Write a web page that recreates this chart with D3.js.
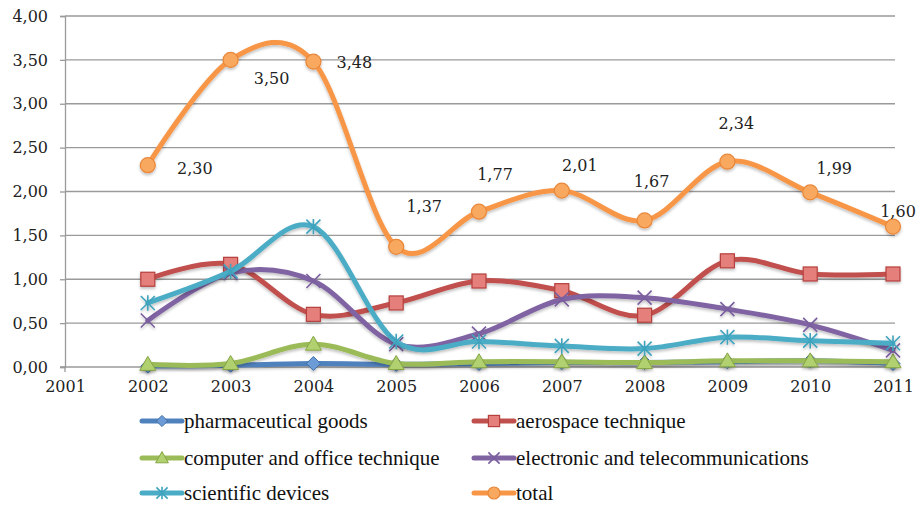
<!DOCTYPE html>
<html>
<head>
<meta charset="utf-8">
<script src="https://cdn.jsdelivr.net/npm/d3@7"></script>
<style>
  html, body { margin: 0; padding: 0; background: #fff; }
  svg { display: block; }
  .legend-text { font-family: "Liberation Serif", "Times New Roman", Times, serif; }
</style>
</head>
<body>
<svg id="chart" width="917" height="506"></svg>
<script>
// ---------- data ----------
const years = [2002, 2003, 2004, 2005, 2006, 2007, 2008, 2009, 2010, 2011];
const xTickYears = [2001, 2002, 2003, 2004, 2005, 2006, 2007, 2008, 2009, 2010, 2011];
const yTickValues = [0, 0.5, 1, 1.5, 2, 2.5, 3, 3.5, 4];

const pharmaceutical = [0.01, 0.02, 0.04, 0.03, 0.04, 0.05, 0.05, 0.06, 0.07, 0.04];
const aerospace      = [1.00, 1.17, 0.60, 0.73, 0.98, 0.87, 0.59, 1.21, 1.06, 1.06];
const computer       = [0.03, 0.04, 0.26, 0.04, 0.06, 0.06, 0.05, 0.07, 0.07, 0.06];
const electronic     = [0.53, 1.07, 0.98, 0.26, 0.38, 0.77, 0.79, 0.66, 0.48, 0.19];
const scientific     = [0.73, 1.09, 1.60, 0.29, 0.29, 0.24, 0.21, 0.34, 0.30, 0.27];
const total          = [2.30, 3.50, 3.48, 1.37, 1.77, 2.01, 1.67, 2.34, 1.99, 1.60];

const seriesNames = ["pharmaceutical goods", "aerospace technique", "computer and office technique",
                     "electronic and telecommunications", "scientific devices", "total"];

// label offsets (pixels) for the total data labels
const labelDx = [47, 41, 41, 28, 16, 18, 7, 9, 24, 5];
const labelDy = [3, 19, 1, -40, -37, -25, -39, -38, -24, -15];

// ---------- styling ----------
const styles = [
  { color: "#4F81BD", fill: "#6d9bd6", stroke: "#3f6fa8", marker: "diamond" },
  { color: "#C0504D", fill: "#e57f7c", stroke: "#b5403d", marker: "square" },
  { color: "#9BBB59", fill: "#b1d06f", stroke: "#86a543", marker: "triangle" },
  { color: "#8064A2", fill: "none",    stroke: "#7a5e9e", marker: "x" },
  { color: "#4BACC6", fill: "none",    stroke: "#3fa3bd", marker: "star" },
  { color: "#F79646", fill: "#f9a95f", stroke: "#e9873a", marker: "circle" }
];
const seriesData = [pharmaceutical, aerospace, computer, electronic, scientific, total];

const svg = d3.select("#chart");

const x = d3.scaleLinear().domain([2001, 2011]).range([65, 893]);
const y = d3.scaleLinear().domain([0, 4]).range([367, 16]);

const tickFont = "'DejaVu Serif', serif";

// gridlines
svg.append("g")
  .selectAll("line")
  .data(yTickValues.filter(v => v > 0))
  .join("line")
  .attr("x1", x(2001)).attr("x2", x(2011) + 2)
  .attr("y1", d => y(d)).attr("y2", d => y(d))
  .attr("stroke", "#9a9a9a").attr("stroke-width", 1.3);

// y axis
const yAxis = d3.axisLeft(y).tickValues(yTickValues).tickSize(5)
  .tickFormat(d => d3.format(".2f")(d).replace(".", ","));
const gy = svg.append("g").attr("transform", `translate(${x(2001)},0)`).call(yAxis);
gy.select(".domain").attr("stroke", "#9a9a9a").attr("stroke-width", 1.3);
gy.selectAll(".tick line").attr("stroke", "#9a9a9a").attr("stroke-width", 1.3);
gy.selectAll(".tick text").attr("x", -17).attr("font-family", tickFont)
  .attr("font-size", "16px").attr("fill", "#222");

// x axis
const xAxis = d3.axisBottom(x).tickValues(xTickYears).tickSize(0).tickFormat(d3.format("d"));
const gx = svg.append("g").attr("transform", `translate(0,${y(0)})`).call(xAxis);
gx.select(".domain").attr("stroke", "#9a9a9a").attr("stroke-width", 1.3).attr("d", `M${x(2001) - 5},0H${x(2011) + 2}`);
gx.selectAll(".tick text").attr("y", 14).attr("font-family", tickFont)
  .attr("font-size", "16px").attr("fill", "#222");
gx.append("line").attr("x1", x(2001)).attr("x2", x(2001)).attr("y1", 0).attr("y2", 5)
  .attr("stroke", "#9a9a9a").attr("stroke-width", 1.3);

// shadow filter
const defs = svg.append("defs");
const f = defs.append("filter").attr("id", "shadow").attr("x", "-10%").attr("y", "-10%")
  .attr("width", "120%").attr("height", "130%");
f.append("feGaussianBlur").attr("in", "SourceAlpha").attr("stdDeviation", 1.5).attr("result", "b");
f.append("feOffset").attr("in", "b").attr("dx", 0).attr("dy", 2).attr("result", "o");
f.append("feComponentTransfer").attr("in", "o").attr("result", "t")
  .append("feFuncA").attr("type", "linear").attr("slope", 0.25);
const m = f.append("feMerge");
m.append("feMergeNode").attr("in", "t");
m.append("feMergeNode").attr("in", "SourceGraphic");

const line = d3.line()
  .x((d, i) => x(years[i]))
  .y(d => y(d))
  .curve(d3.curveCatmullRom.alpha(0));

function drawMarker(g, type, st, cx, cy, scale) {
  const s = scale || 1;
  if (type === "diamond") {
    const r = 7 * s;
    g.append("path").attr("d", `M${cx},${cy - r}L${cx + r},${cy}L${cx},${cy + r}L${cx - r},${cy}Z`)
      .attr("fill", st.fill).attr("stroke", st.stroke).attr("stroke-width", 1);
  } else if (type === "square") {
    const h = 7 * s;
    g.append("rect").attr("x", cx - h).attr("y", cy - h).attr("width", 2 * h).attr("height", 2 * h)
      .attr("fill", st.fill).attr("stroke", st.stroke).attr("stroke-width", 1.2);
  } else if (type === "triangle") {
    const h = 8 * s;
    g.append("path").attr("d", `M${cx},${cy - h}L${cx + h},${cy + h * 0.75}L${cx - h},${cy + h * 0.75}Z`)
      .attr("fill", st.fill).attr("stroke", st.stroke).attr("stroke-width", 1);
  } else if (type === "circle") {
    g.append("circle").attr("cx", cx).attr("cy", cy).attr("r", 7.5 * s)
      .attr("fill", st.fill).attr("stroke", st.stroke).attr("stroke-width", 1.2);
  } else if (type === "x") {
    const r = 7 * s;
    g.append("path").attr("d", `M${cx - r},${cy - r}L${cx + r},${cy + r}M${cx - r},${cy + r}L${cx + r},${cy - r}`)
      .attr("stroke", st.stroke).attr("stroke-width", 1.6).attr("fill", "none");
  } else if (type === "star") {
    const r = 7 * s;
    g.append("path").attr("d", `M${cx - r},${cy - r}L${cx + r},${cy + r}M${cx - r},${cy + r}L${cx + r},${cy - r}M${cx},${cy - r * 1.1}L${cx},${cy + r * 1.1}`)
      .attr("stroke", st.stroke).attr("stroke-width", 1.6).attr("fill", "none");
  }
}

seriesData.forEach((data, si) => {
  const st = styles[si];
  const g = svg.append("g").attr("filter", "url(#shadow)");
  g.append("path").attr("d", line(data)).attr("fill", "none")
    .attr("stroke", st.color).attr("stroke-width", 5).attr("stroke-linejoin", "round").attr("stroke-linecap", "round");
  data.forEach((v, i) => drawMarker(g, st.marker, st, x(years[i]), y(v)));
});

// total data labels
svg.append("g").selectAll("text").data(total).join("text")
  .attr("x", (d, i) => x(years[i]) + labelDx[i])
  .attr("y", (d, i) => y(d) + labelDy[i])
  .attr("dy", "0.35em")
  .attr("text-anchor", "middle")
  .attr("font-family", tickFont).attr("font-size", "16px").attr("fill", "#222")
  .text(d => d3.format(".2f")(d).replace(".", ","));

// legend
const legendCols = [140, 472];
const legendRows = [421, 458, 493];
seriesNames.forEach((name, si) => {
  const st = styles[si];
  const lx = legendCols[si % 2];
  const ly = legendRows[Math.floor(si / 2)];
  const g = svg.append("g");
  g.append("line").attr("x1", lx + 2).attr("x2", lx + 42).attr("y1", ly).attr("y2", ly)
    .attr("stroke", st.color).attr("stroke-width", 5).attr("stroke-linecap", "round");
  drawMarker(g, st.marker, st, lx + 22, ly, 0.8);
  g.append("text").attr("class", "legend-text").attr("x", lx + 44).attr("y", ly).attr("dy", "0.33em")
    .attr("font-size", "21px")
    .attr("fill", "#111").text(name);
});
</script>
</body>
</html>
